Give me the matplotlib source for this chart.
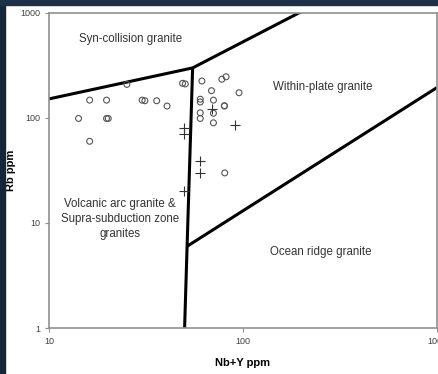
"""
Pearce (1984) Rb vs Nb+Y discrimination diagram
"""

import matplotlib.pyplot as plt
from matplotlib.patches import Rectangle

plt.rcParams["font.family"] = ["Liberation Sans", "DejaVu Sans"]

# Límites de campos (Pearce et al., 1984)
upper_x = [2, 55, 400]
upper_y = [80, 300, 2000]
vert_x = [55, 51.5, 50]
vert_y = [300, 6, 1]
org_x = [51.5, 1000]
org_y = [6, 195]

# Muestras: círculos
circ_x = [14.2, 16.2, 16.2, 19.8, 19.8, 20.2, 25.2, 30.2, 31.2, 35.9, 40.6,
          48.8, 50.4, 61.4, 77.8, 81.8, 68.8, 95.4, 60.2, 60.2, 70.4, 80.2,
          80.2, 60.2, 60.2, 70.4, 70.4, 80.5]
circ_y = [99, 148, 60, 148, 99, 99, 209, 148, 146, 146, 130,
          214, 211, 225, 234, 247, 182, 174, 151, 142, 148, 131,
          130, 112, 99, 111, 90, 30]

# Muestras: cruces
plus_x = [69.6, 90.7, 49.8, 49.8, 60.2, 60.2, 49.8]
plus_y = [121, 86, 80, 70, 39, 30, 20]

fig = plt.figure(figsize=(4.38, 3.74), dpi=100, facecolor="white")
ax = fig.add_axes([49 / 438, 1 - 328 / 374, 388 / 438, 315 / 374])

# Marco oscuro de la diapositiva
fig.patches.append(Rectangle((0, 0), 4.5 / 438, 1, transform=fig.transFigure,
                             color="#14263a", zorder=10))
fig.patches.append(Rectangle((0, 1 - 4.5 / 374), 1, 4.5 / 374, transform=fig.transFigure,
                             color="#1c3048", zorder=10))

ax.plot(upper_x, upper_y, color="black", lw=2.2, solid_capstyle="butt")
ax.plot(vert_x, vert_y, color="black", lw=2.2, solid_capstyle="butt")
ax.plot(org_x, org_y, color="black", lw=2.2, solid_capstyle="butt")

ax.scatter(circ_x, circ_y, s=18, facecolors="none", edgecolors="#555555",
           linewidths=0.8, zorder=3)
ax.scatter(plus_x, plus_y, s=60, marker="+", color="#333333",
           linewidths=0.8, zorder=3)

ax.set_xscale("log")
ax.set_yscale("log")
ax.set_xlim(10, 1000)
ax.set_ylim(1, 1000)
ax.set_xticks([10, 100, 1000])
ax.set_xticklabels(["10", "100", "1000"])
ax.set_yticks([1, 10, 100, 1000])
ax.set_yticklabels(["1", "10", "100", "1000"])
ax.minorticks_off()
ax.tick_params(labelsize=6.5, colors="#404040", length=3, width=0.8, color="#909090")
for s in ax.spines.values():
    s.set_color("#909090")
    s.set_linewidth(1.2)

ax.set_xlabel("Nb+Y ppm", fontsize=8, fontweight="bold")
ax.set_ylabel("Rb ppm", fontsize=8, fontweight="bold")
ax.xaxis.set_label_coords(0.5, -0.096)
ax.yaxis.set_label_coords(-0.085, 0.5)

txt = dict(fontsize=8.3, color="#333333", ha="center", va="center")
ax.text(0.209, 0.917, "Syn-collision granite", transform=ax.transAxes, **txt)
ax.text(0.706, 0.765, "Within-plate granite", transform=ax.transAxes, **txt)
ax.text(0.183, 0.345, "Volcanic arc granite &\nSupra-subduction zone\ngranites",
        transform=ax.transAxes, linespacing=1.35, **txt)
ax.text(0.701, 0.241, "Ocean ridge granite", transform=ax.transAxes, **txt)

fig.savefig("out.png", dpi=100, facecolor="white")
